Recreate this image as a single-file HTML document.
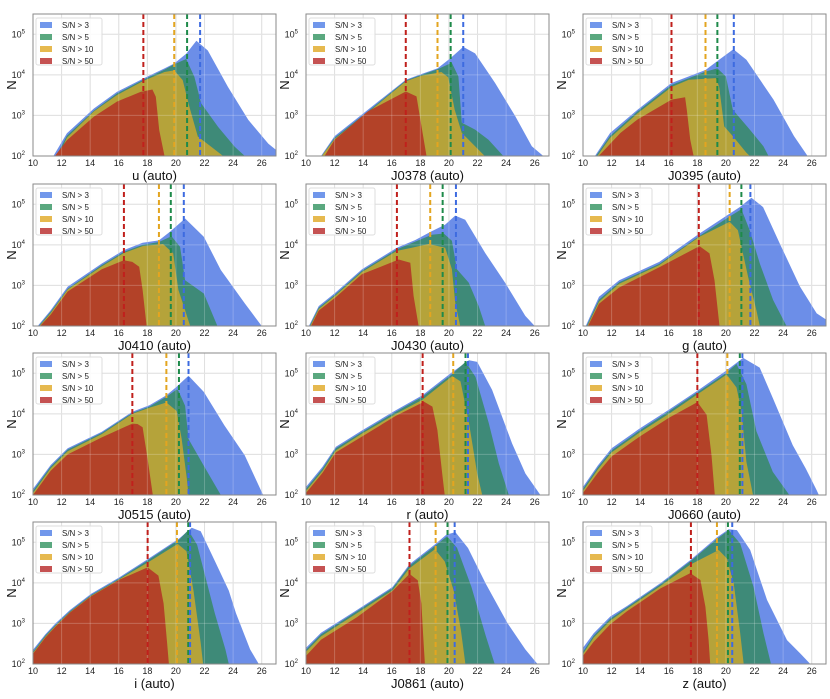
<!DOCTYPE html>
<html><head><meta charset="utf-8">
<style>
html,body{margin:0;padding:0;background:#fff;}
svg{display:block;font-family:"Liberation Sans","DejaVu Sans",sans-serif;}
</style></head>
<body>
<svg id="fig" width="830" height="699" viewBox="0 0 830 699" xmlns="http://www.w3.org/2000/svg"></svg>
<script>
// ---- data: [magnitude, log10 N] control points per S/N threshold ----
const panelNames = ["u","J0378","J0395","J0410","J0430","g","J0515","r","J0660","i","J0861","z"];
const xTicks = [10,12,14,16,18,20,22,24,26];
const yTicks = [2,3,4,5];
const seriesLabels = ["S/N > 3","S/N > 5","S/N > 10","S/N > 50"];

const u_sn3 = [[11.43,2],[12.37,2.56],[14.26,3.17],[15.87,3.58],[17.72,3.91],[19.2,4.16],[19.88,4.28],[20.72,4.52],[21.43,4.84],[22.23,4.6],[23.64,3.7],[25.06,2.89],[26.47,2.3],[27,2.15]];
const u_sn5 = [[11.63,2],[12.37,2.5],[14.26,3.12],[15.87,3.54],[17.72,3.88],[19.2,4.13],[19.88,4.26],[20.72,4.39],[21.29,3.95],[21.76,3.3],[22.94,2.72],[24.11,2.23],[24.82,2]];
const u_sn10 = [[11.79,2],[12.37,2.45],[14.26,3.1],[15.87,3.5],[17.72,3.85],[19.2,4.07],[19.88,4.11],[20.47,3.87],[20.94,3.21],[21.53,2.48],[22.47,2.23],[23.3,2]];
const u_sn50 = [[11.53,2],[12.37,2.39],[14.26,2.97],[15.87,3.34],[17.53,3.58],[18.35,3.64],[18.59,3.46],[18.83,2.64],[19.2,2]];
const u_cut = [17.72,19.88,20.78,21.69];

const J0378_sn3 = [[11.05,2],[12,2.49],[14.33,3.14],[16.98,3.88],[18.08,4.02],[19.2,4.16],[20.07,4.4],[21,4.69],[21.83,4.53],[23.23,3.8],[24.64,2.98],[25.8,2.24],[26.6,2]];
const J0378_sn5 = [[11.1,2],[12,2.45],[14.33,3.1],[16.98,3.86],[18.08,4.0],[19.2,4.14],[20.2,4.3],[20.66,3.96],[20.9,2.82],[21.83,2.65],[22.77,2.4],[23.8,2]];
const J0378_sn10 = [[11.1,2],[12,2.42],[14.33,3.07],[16.98,3.84],[18.08,3.98],[19.47,4.07],[19.95,3.94],[20.4,3.14],[20.9,2.57],[21.83,2.24],[22.5,2]];
const J0378_sn50 = [[11.3,2],[12,2.4],[14.33,3.1],[16.98,3.59],[17.73,3.47],[18.08,2.73],[18.43,2]];
const J0378_cut = [16.98,19.2,20.12,21.0];

const J0395_sn3 = [[10.83,2],[11.9,2.57],[13.81,3.14],[16.19,3.8],[18.57,4.12],[19.52,4.37],[20.52,4.63],[21.43,4.37],[23.33,3.39],[24.76,2.49],[25.71,2]];
const J0395_sn5 = [[10.9,2],[11.9,2.5],[13.81,3.1],[16.19,3.75],[18.57,4.08],[19.4,4.16],[20,3.96],[20.48,3.14],[21.67,2.65],[22.62,2.24],[22.98,2]];
const J0395_sn10 = [[11,2],[11.9,2.45],[13.81,3.05],[16.19,3.7],[17.4,3.88],[19.3,3.92],[19.52,3.71],[19.88,2.73],[20.48,2.49],[21.43,2.08],[21.67,2]];
const J0395_sn50 = [[11.1,2],[12.62,2.57],[13.81,2.9],[16.19,3.39],[17.14,3.45],[17.26,3.14],[17.5,2.41],[17.74,2]];
const J0395_cut = [16.19,18.57,19.4,20.55];

const J0410_sn3 = [[10.33,2],[11.24,2.39],[12.43,2.97],[14.81,3.54],[16.36,3.87],[17.67,4.05],[18.81,4.11],[19.57,4.32],[20.64,4.65],[21.95,4.2],[23.14,3.38],[24.81,2.56],[26,2]];
const J0410_sn5 = [[10.4,2],[11.24,2.35],[12.43,2.92],[14.81,3.5],[16.36,3.83],[17.67,4.0],[18.81,4.07],[19.69,4.21],[20.29,3.95],[20.64,3.13],[21.95,2.8],[22.9,2]];
const J0410_sn10 = [[10.45,2],[11.24,2.32],[12.43,2.9],[14.81,3.47],[16.36,3.8],[17.67,3.97],[19.1,4.02],[19.81,3.79],[20.17,2.89],[20.64,2.39],[21,2]];
const J0410_sn50 = [[10.5,2],[11.24,2.28],[12.43,2.85],[14.81,3.4],[16.36,3.62],[16.95,3.58],[17.43,3.46],[17.67,2.89],[17.95,2]];
const J0410_cut = [16.36,18.81,19.64,20.55];

const J0430_sn3 = [[10.2,2],[10.89,2.49],[12.05,2.82],[13.92,3.4],[16.36,3.93],[17.65,4.12],[18.81,4.34],[19.74,4.5],[20.44,4.72],[21.14,4.62],[22.54,3.8],[23.94,3.06],[25.34,2.25],[26,2]];
const J0430_sn5 = [[10.25,2],[10.89,2.45],[12.05,2.78],[13.92,3.36],[16.36,3.89],[17.65,4.08],[18.81,4.25],[19.63,4.28],[20.21,4.1],[20.56,3.4],[21.38,3.07],[22.08,2.49],[22.54,2]];
const J0430_sn10 = [[10.3,2],[10.89,2.42],[12.05,2.75],[13.92,3.33],[16.36,3.85],[17.4,3.93],[18.58,4.02],[19.74,3.93],[20.21,3.4],[20.44,2.58],[20.79,2]];
const J0430_sn50 = [[10.35,2],[10.89,2.38],[12.05,2.7],[13.92,3.28],[16.36,3.62],[16.48,3.64],[17.3,3.56],[17.53,2.74],[17.88,2]];
const J0430_cut = [16.36,18.69,19.56,20.49];

const g_sn3 = [[10.19,2],[11.12,2.72],[12.53,3.13],[15.34,3.58],[18.15,4.28],[20.26,4.77],[20.96,4.93],[21.78,5.16],[22.6,4.93],[23.77,4.03],[25.18,2.97],[26.35,2.31],[27.05,2.15]];
const g_sn5 = [[10.25,2],[11.12,2.65],[12.53,3.08],[15.34,3.53],[18.15,4.22],[20.26,4.7],[21.08,4.88],[21.66,4.36],[22.37,3.54],[23.3,2.64],[24.24,2]];
const g_sn10 = [[10.3,2],[11.12,2.6],[12.53,3.04],[15.34,3.5],[18.15,4.2],[20.26,4.57],[20.84,4.36],[21.55,3.21],[22.13,2.39],[22.37,2]];
const g_sn50 = [[10.35,2],[11.12,2.55],[12.53,2.95],[15.34,3.45],[18.15,3.97],[18.85,3.79],[19.2,3.13],[19.55,2]];
const g_cut = [18.1,20.26,21.08,21.71];

const J0515_sn3 = [[10,2],[10,2.15],[11.24,2.74],[12.43,3.15],[14.81,3.56],[16.95,4.05],[18.14,4.21],[19.33,4.46],[20.05,4.67],[20.88,4.94],[21.95,4.54],[23.38,3.72],[24.81,2.98],[26.1,2]];
const J0515_sn5 = [[10,2],[10,2.1],[11.24,2.7],[12.43,3.12],[14.81,3.53],[16.95,4.02],[18.14,4.18],[19.33,4.42],[20.05,4.6],[20.17,4.57],[20.64,4.2],[20.88,3.38],[21.95,2.72],[23.14,2]];
const J0515_sn10 = [[10,2],[10,2.05],[11.24,2.66],[12.43,3.08],[14.81,3.5],[16.95,4.0],[18.14,4.15],[19.33,4.28],[20.05,4.07],[20.4,3.38],[20.76,2.41],[20.88,2]];
const J0515_sn50 = [[10,2],[11.24,2.6],[12.43,3.0],[14.81,3.42],[16.95,3.76],[17.31,3.75],[17.67,3.67],[18.02,2.89],[18.38,2]];
const J0515_cut = [16.95,19.33,20.21,20.88];

const r_sn3 = [[10,2],[10,2.2],[11.16,2.7],[12.09,3.19],[13.95,3.6],[16.28,4.09],[18.14,4.46],[20.23,5.03],[21.4,5.32],[21.98,5.28],[23.02,4.59],[24.42,3.27],[25.35,2.53],[26.4,2]];
const r_sn5 = [[10,2],[10,2.15],[11.16,2.65],[12.09,3.15],[13.95,3.56],[16.28,4.05],[18.14,4.42],[20.23,4.98],[21.16,5.28],[21.86,4.91],[22.79,3.77],[23.49,2.78],[24.19,2]];
const r_sn10 = [[10,2],[10,2.1],[11.16,2.6],[12.09,3.1],[13.95,3.52],[16.28,4.0],[18.14,4.35],[20.23,4.93],[20.81,4.8],[21.4,3.77],[21.98,2.53],[22.33,2]];
const r_sn50 = [[10,2],[10,2.05],[11.16,2.55],[12.09,3.05],[13.95,3.45],[16.28,3.95],[18.26,4.3],[18.84,4.18],[19.19,3.6],[19.53,2.53],[19.7,2]];
const r_cut = [18.16,20.3,21.16,21.33];

const J0660_sn3 = [[10,2],[10,2.2],[11.04,2.73],[12,3.15],[14,3.65],[16,4.1],[18,4.57],[20,5.06],[21.2,5.38],[22.36,5.14],[23.28,4.39],[24.67,3.23],[25.59,2.65],[26.3,2.15],[26.5,2]];
const J0660_sn5 = [[10,2],[10,2.15],[11.04,2.68],[12,3.1],[14,3.6],[16,4.06],[18,4.53],[20,5.0],[20.74,5.23],[21.43,4.73],[22.13,3.57],[23.28,2.57],[24.43,2]];
const J0660_sn10 = [[10,2],[10,2.1],[11.04,2.63],[12,3.05],[14,3.55],[16,4.0],[18,4.48],[20.05,4.97],[20.74,4.65],[21.09,4.07],[21.43,2.82],[21.89,2]];
const J0660_sn50 = [[10,2],[10,2.05],[11.04,2.55],[12,2.95],[14,3.45],[16,3.9],[18,4.29],[18.65,3.98],[18.99,2.98],[19.22,2]];
const J0660_cut = [18.0,20.1,20.97,21.15];

const i_sn3 = [[10,2],[10,2.35],[10.86,2.73],[11.6,3.01],[12.59,3.33],[14.07,3.73],[16.05,4.14],[18.02,4.58],[20.25,5.1],[21.1,5.36],[21.73,5.27],[22.72,4.54],[23.7,3.81],[24.2,3.25],[25.19,2.36],[25.8,2]];
const i_sn5 = [[10,2],[10,2.3],[10.86,2.7],[11.6,2.97],[12.59,3.3],[14.07,3.7],[16.05,4.11],[18.02,4.55],[20.25,5.07],[20.86,5.3],[21.48,4.94],[22.72,3.25],[23.46,2.36],[23.7,2]];
const i_sn10 = [[10,2],[10,2.27],[10.86,2.67],[11.6,2.95],[12.59,3.28],[14.07,3.68],[16.05,4.09],[18.02,4.5],[20.12,4.96],[20.74,4.78],[21.23,3.81],[21.73,2.52],[21.9,2]];
const i_sn50 = [[10,2],[10,2.25],[10.86,2.65],[11.6,2.93],[12.59,3.27],[14.07,3.67],[16.05,4.08],[18.02,4.38],[18.77,4.18],[19.14,3.49],[19.38,2.52],[19.51,2]];
const i_cut = [18.02,20.07,20.86,20.99];

const J0861_sn3 = [[10,2],[10,2.4],[11.05,2.77],[13.56,3.33],[16.06,3.9],[17.24,4.46],[19.07,4.96],[19.82,5.19],[20.45,5.25],[21.33,4.86],[22.58,3.98],[24.09,3.01],[25.34,2.36],[26.1,2.04],[26.2,2]];
const J0861_sn5 = [[10,2],[10,2.35],[11.05,2.73],[13.56,3.3],[16.06,3.87],[17.24,4.42],[19.07,4.92],[19.87,5.15],[20.57,4.86],[21.57,3.9],[22.58,2.69],[23.2,2]];
const J0861_sn10 = [[10,2],[10,2.3],[11.05,2.68],[13.56,3.25],[16.06,3.82],[17.24,4.36],[19.02,4.83],[19.7,4.53],[20.33,3.81],[20.83,2.85],[21.15,2]];
const J0861_sn50 = [[10,2],[10,2.2],[11.05,2.6],[13.56,3.15],[16.06,3.8],[17.24,4.22],[17.82,4.06],[18.07,3.49],[18.2,2.69],[18.32,2]];
const J0861_cut = [17.24,19.07,19.9,20.4];

const z_sn3 = [[10,2],[10,2.4],[10.75,2.76],[11.91,3.17],[13.08,3.43],[15.41,3.99],[17.51,4.56],[19.37,5.12],[20.19,5.32],[20.77,5.3],[21.7,4.81],[22.87,3.58],[24.27,2.59],[25.2,2.26],[25.9,2]];
const z_sn5 = [[10,2],[10,2.3],[10.75,2.7],[11.91,3.12],[13.08,3.4],[15.41,3.96],[17.51,4.53],[19.37,5.08],[20.19,5.3],[21,4.97],[21.93,3.9],[22.63,2.76],[23.15,2]];
const z_sn10 = [[10,2],[10,2.25],[10.75,2.65],[11.91,3.07],[13.08,3.36],[15.41,3.92],[17.51,4.45],[19.49,4.81],[20.07,4.6],[20.54,3.99],[21,2.76],[21.24,2]];
const z_sn50 = [[10,2],[10,2.2],[10.75,2.55],[11.91,2.98],[13.08,3.3],[15.41,3.86],[17.51,4.24],[18.21,4.07],[18.56,3.41],[18.79,2.59],[18.9,2]];
const z_cut = [17.55,19.37,20.14,20.44];

const panelSeries = [
  [u_sn3,u_sn5,u_sn10,u_sn50],[J0378_sn3,J0378_sn5,J0378_sn10,J0378_sn50],[J0395_sn3,J0395_sn5,J0395_sn10,J0395_sn50],
  [J0410_sn3,J0410_sn5,J0410_sn10,J0410_sn50],[J0430_sn3,J0430_sn5,J0430_sn10,J0430_sn50],[g_sn3,g_sn5,g_sn10,g_sn50],
  [J0515_sn3,J0515_sn5,J0515_sn10,J0515_sn50],[r_sn3,r_sn5,r_sn10,r_sn50],[J0660_sn3,J0660_sn5,J0660_sn10,J0660_sn50],
  [i_sn3,i_sn5,i_sn10,i_sn50],[J0861_sn3,J0861_sn5,J0861_sn10,J0861_sn50],[z_sn3,z_sn5,z_sn10,z_sn50]];
const panelCuts = [u_cut,J0378_cut,J0395_cut,J0410_cut,J0430_cut,g_cut,J0515_cut,r_cut,J0660_cut,i_cut,J0861_cut,z_cut];

// ---- styling / layout ----
const NS = "http://www.w3.org/2000/svg";
const svg = document.getElementById('fig');
const colLeft = [33, 306, 583];
const rowTop = [14, 184, 353, 522];
const PW = 243, PH = 142;
const XMIN = 10, XMAX = 27, YMIN = 2, YMAX = 5.5;
const fillCols = ["#6c8ee8","#3e8a78","#b5a33a","#b34228"];
const legCols = ["#7197eb","#5aa87f","#e6b94f","#c55252"];
const lineCols = ["#3d6be0","#1e8a4a","#e3a520","#c0201c"];

function mk(tag, attrs, parent){
  const e = document.createElementNS(NS, tag);
  for (const k in attrs) e.setAttribute(k, attrs[k]);
  (parent||svg).appendChild(e);
  return e;
}

panelNames.forEach((name, pi) => {
  const L = colLeft[pi % 3], T = rowTop[Math.floor(pi / 3)];
  const B = T + PH, R = L + PW;
  const xs = m => L + (m - XMIN) / (XMAX - XMIN) * PW;
  const ys = v => B - (v - YMIN) / (YMAX - YMIN) * PH;

  const g = mk('g', {});
  
  

  const clipId = 'clip' + pi;
  const cp = mk('clipPath', {id: clipId}, g);
  mk('rect', {x: L, y: T, width: PW, height: PH}, cp);

  mk('rect', {x: L, y: T, width: PW, height: PH, fill: '#fff'}, g);

  const body = mk('g', {'clip-path': 'url(#' + clipId + ')'}, g);
  // grid under
  xTicks.forEach(t => { mk('line', {x1: xs(t), x2: xs(t), y1: T, y2: B, stroke: '#d6d6d6', 'stroke-width': 1}, body); });
  yTicks.forEach(t => { mk('line', {x1: L, x2: R, y1: ys(t), y2: ys(t), stroke: '#d6d6d6', 'stroke-width': 1}, body); });

  // filled series (largest first)
  panelSeries[pi].forEach((pts, si) => {
    let d = 'M' + xs(pts[0][0]).toFixed(1) + ',' + ys(2).toFixed(1);
    pts.forEach(p => { d += ' L' + xs(p[0]).toFixed(1) + ',' + ys(p[1]).toFixed(1); });
    d += ' L' + xs(pts[pts.length-1][0]).toFixed(1) + ',' + ys(2).toFixed(1) + ' Z';
    const path = mk('path', {d: d, fill: fillCols[si]}, body);
    
    
  });

  // grid over (faint)
  xTicks.forEach(t => { mk('line', {x1: xs(t), x2: xs(t), y1: T, y2: B, stroke: 'rgba(255,255,255,0.22)', 'stroke-width': 1}, body); });
  yTicks.forEach(t => { mk('line', {x1: L, x2: R, y1: ys(t), y2: ys(t), stroke: 'rgba(255,255,255,0.22)', 'stroke-width': 1}, body); });

  // dashed cut lines: order red, yellow, green, blue
  const cutColIdx = [3, 2, 1, 0];
  panelCuts[pi].forEach((c, ci) => {
    const ln = mk('line', {x1: xs(c), x2: xs(c), y1: T, y2: B, stroke: lineCols[cutColIdx[ci]], 'stroke-width': 2, 'stroke-dasharray': '5,3'}, body);
    
    
  });

  // frame
  mk('rect', {x: L, y: T, width: PW, height: PH, fill: 'none', stroke: '#8a8a8a', 'stroke-width': 1}, g);

  // x tick labels
  xTicks.forEach(t => {
    const tx = mk('text', {x: xs(t), y: B + 10, 'font-size': 9, 'text-anchor': 'middle', fill: '#222'}, g);
    tx.textContent = t;
    
    
  });
  // y tick labels
  yTicks.forEach(t => {
    const tx = mk('text', {x: L - 8, y: ys(t) + 3, 'font-size': 9, 'text-anchor': 'end', fill: '#222'}, g);
    tx.textContent = '10';
    const sup = mk('tspan', {dy: -4, 'font-size': 6}, tx);
    sup.textContent = t;
    
    
  });
  // axis titles
  const xt = mk('text', {x: L + PW / 2, y: B + 24, 'font-size': 13, 'text-anchor': 'middle', fill: '#111'}, g);
  xt.textContent = name + ' (auto)';
  
  
  const yt = mk('text', {x: L - 22, y: T + PH / 2 + 5, 'font-size': 13, 'text-anchor': 'middle', fill: '#111', transform: 'rotate(-90 ' + (L - 22) + ' ' + (T + PH / 2) + ')'}, g);
  yt.textContent = 'N';
  
  

  // legend
  const lg = mk('g', {}, g);
  
  
  mk('rect', {x: L + 3, y: T + 4, width: 66, height: 47, rx: 2, fill: 'rgba(255,255,255,0.85)', stroke: '#dddddd', 'stroke-width': 1}, lg);
  seriesLabels.forEach((lab, li) => {
    const cy = T + 11 + li * 12;
    const it = mk('g', {}, lg);
    
    
    mk('rect', {x: L + 7, y: cy - 3, width: 12, height: 6, fill: legCols[li]}, it);
    const tx = mk('text', {x: L + 29, y: cy + 3, 'font-size': 8, fill: '#222'}, it);
    tx.textContent = lab;
  });
});
</script>
</body></html>
